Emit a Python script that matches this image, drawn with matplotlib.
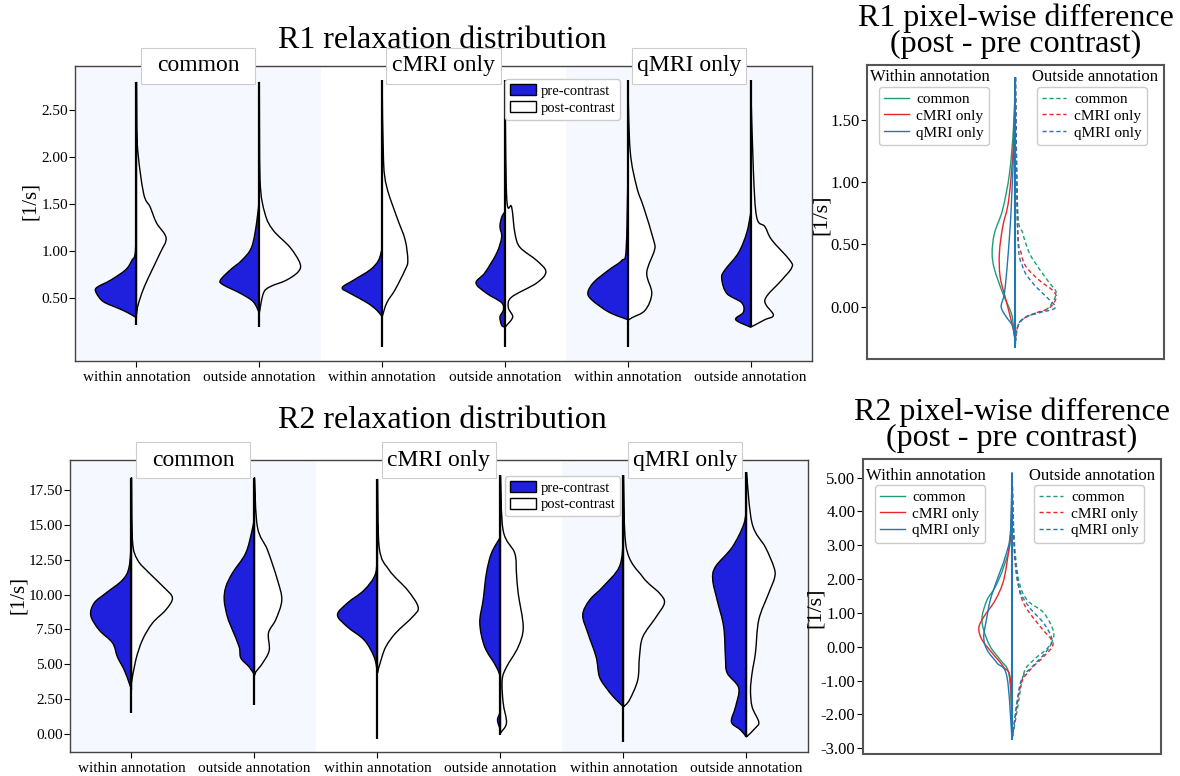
import numpy as np
import matplotlib
matplotlib.use('Agg')
import matplotlib.pyplot as plt
from matplotlib.path import Path
from matplotlib.patches import PathPatch, Patch, Rectangle
from matplotlib.lines import Line2D

plt.rcParams['font.family'] = ['Liberation Serif', 'DejaVu Serif']
plt.rcParams['axes.unicode_minus'] = False

groups = ['common', 'cMRI only', 'qMRI only']
regions = ['within annotation', 'outside annotation']

# half-violin outlines: knot values (y) and half widths (w)
# order: common-within, common-outside, cMRI-within, cMRI-outside, qMRI-within, qMRI-outside
r1_pre_y = [
    [1.55, 1.01, 0.90, 0.80, 0.69, 0.61, 0.55, 0.46, 0.39, 0.34, 0.29],
    [1.56, 1.30, 1.04, 0.90, 0.80, 0.69, 0.64, 0.55, 0.46, 0.34],
    [1.03, 0.90, 0.80, 0.69, 0.61, 0.55, 0.45, 0.37, 0.30],
    [1.42, 1.36, 1.26, 1.15, 0.98, 0.77, 0.66, 0.55, 0.45, 0.37, 0.30, 0.21, 0.19],
    [1.76, 1.01, 0.90, 0.80, 0.67, 0.56, 0.48, 0.35, 0.27],
    [1.40, 1.19, 0.98, 0.80, 0.71, 0.55, 0.45, 0.35, 0.27, 0.19],
]
r1_pre_w = [
    [0, 0.008, 0.038, 0.089, 0.211, 0.325, 0.325, 0.268, 0.146, 0.065, 0],
    [0, 0.022, 0.063, 0.144, 0.236, 0.317, 0.293, 0.154, 0.049, 0],
    [0, 0.030, 0.098, 0.233, 0.325, 0.260, 0.122, 0.043, 0],
    [0, 0.027, 0.041, 0.027, 0.067, 0.163, 0.236, 0.149, 0.027, 0.014, 0.041, 0.027, 0],
    [0, 0.014, 0.049, 0.154, 0.276, 0.325, 0.293, 0.154, 0],
    [0, 0.033, 0.100, 0.209, 0.236, 0.195, 0.073, 0.059, 0.122, 0],
]
r1_post_y = [
    [2.80, 2.15, 1.62, 1.47, 1.30, 1.14, 0.98, 0.72, 0.55, 0.40, 0.33],
    [2.80, 1.76, 1.40, 1.22, 1.04, 0.87, 0.78, 0.69, 0.62, 0.55, 0.34],
    [2.82, 1.97, 1.68, 1.36, 1.12, 0.90, 0.80, 0.59, 0.45, 0.30],
    [2.82, 1.57, 1.47, 1.19, 1.04, 0.90, 0.78, 0.66, 0.51, 0.40, 0.30, 0.21, 0.19],
    [2.82, 2.07, 1.68, 1.47, 1.12, 1.01, 0.77, 0.55, 0.37, 0.29, 0.26],
    [2.82, 1.86, 1.36, 1.26, 1.12, 0.90, 0.82, 0.69, 0.48, 0.32, 0.27, 0.19],
]
r1_post_w = [
    [0, 0.006, 0.057, 0.111, 0.163, 0.241, 0.193, 0.098, 0.043, 0.008, 0],
    [0, 0.006, 0.046, 0.114, 0.250, 0.331, 0.317, 0.220, 0.087, 0.033, 0],
    [0, 0.011, 0.038, 0.120, 0.187, 0.209, 0.187, 0.106, 0.038, 0],
    [0, 0.014, 0.054, 0.081, 0.122, 0.258, 0.333, 0.258, 0.054, 0.027, 0.063, 0.014, 0],
    [0, 0.019, 0.073, 0.128, 0.209, 0.217, 0.154, 0.195, 0.141, 0.033, 0],
    [0, 0.022, 0.049, 0.116, 0.171, 0.320, 0.333, 0.252, 0.116, 0.185, 0.116, 0],
]
r1_lo = [0.21, 0.19, -0.02, -0.02, -0.02, 0.19]
r1_hi = [2.80, 2.80, 2.82, 2.82, 2.82, 2.82]

r2_pre_y = [
    [14.1, 12.0, 11.05, 10.1, 9.4, 8.5, 7.46, 6.53, 5.52, 4.59, 3.66, 3.16],
    [15.5, 14.6, 12.98, 11.55, 10.55, 9.6, 8.4, 7.46, 6.24, 5.45, 4.8, 4.23],
    [13.4, 11.55, 10.33, 9.4, 8.54, 7.68, 6.74, 5.52, 4.38],
    [14.13, 12.98, 11.55, 9.6, 7.96, 6.24, 4.8, 3.87, 1.8, 1.0, 0.29],
    [13.9, 12.0, 10.55, 9.6, 8.54, 7.25, 5.52, 4.09, 3.16, 2.58, 1.94],
    [16.5, 15.1, 13.4, 12.0, 11.05, 9.6, 7.68, 5.52, 4.38, 3.3, 1.94, 0.86, 0.29, -0.22],
]
r2_pre_w = [
    [0, 0.019, 0.073, 0.209, 0.303, 0.331, 0.263, 0.154, 0.114, 0.059, 0.019, 0],
    [0, 0.020, 0.071, 0.179, 0.233, 0.246, 0.220, 0.179, 0.124, 0.111, 0.043, 0],
    [0, 0.014, 0.108, 0.244, 0.325, 0.244, 0.108, 0.027, 0],
    [0, 0.073, 0.114, 0.141, 0.168, 0.128, 0.033, 0, 0, 0.024, 0],
    [0, 0.033, 0.168, 0.276, 0.331, 0.290, 0.222, 0.195, 0.128, 0.073, 0],
    [0, 0.020, 0.116, 0.252, 0.274, 0.238, 0.185, 0.171, 0.157, 0.063, 0.089, 0.122, 0.049, 0],
]
r2_post_y = [
    [18.4, 13.9, 12.5, 11.55, 10.5, 9.76, 8.9, 7.96, 6.74, 5.31, 3.66],
    [18.4, 14.85, 13.2, 11.05, 9.6, 8.2, 7.25, 6.0, 5.07, 4.45, 4.2],
    [18.3, 13.4, 11.76, 10.33, 9.1, 8.4, 7.25, 6.24, 5.1, 4.4],
    [18.58, 14.6, 12.98, 11.55, 10.1, 7.68, 6.24, 4.8, 3.87, 2.22, 0.79, 0.07],
    [18.58, 13.4, 11.26, 10.1, 9.4, 8.4, 6.96, 5.52, 3.87, 2.44, 1.94],
    [18.8, 15.1, 13.4, 12.0, 11.26, 10.1, 8.18, 5.81, 4.38, 3.16, 1.94, 0.86, 0.43, -0.22],
]
r2_post_w = [
    [0, 0.008, 0.049, 0.144, 0.266, 0.333, 0.279, 0.171, 0.089, 0.035, 0],
    [0, 0.024, 0.106, 0.187, 0.222, 0.173, 0.114, 0.120, 0.065, 0.011, 0],
    [0, 0.014, 0.095, 0.244, 0.331, 0.285, 0.149, 0.067, 0.022, 0],
    [0, 0.022, 0.116, 0.130, 0.144, 0.185, 0.144, 0.049, 0.014, 0.022, 0.049, 0],
    [0, 0.022, 0.157, 0.293, 0.333, 0.266, 0.157, 0.130, 0.116, 0.049, 0],
    [0, 0.046, 0.154, 0.222, 0.230, 0.181, 0.100, 0.073, 0.046, 0.033, 0.046, 0.100, 0.073, 0],
]
r2_lo = [1.5, 2.08, -0.36, -0.07, -0.57, -0.22]
r2_hi = [18.4, 18.4, 18.3, 18.58, 18.58, 18.8]

# pixel-wise differences (post - pre), order: common, cMRI only, qMRI only
r1d_in_y = [
    [1.84, 1.44, 1.07, 0.78, 0.59, 0.43, 0.30, 0.11, -0.05, -0.16, -0.30],
    [1.84, 1.31, 0.86, 0.64, 0.43, 0.24, 0.05, -0.11, -0.23, -0.30],
    [1.84, 1.44, 0.78, 0.38, 0.11, 0.0, -0.08, -0.16, -0.30],
]
r1d_in_w = [
    [0, 0.013, 0.040, 0.086, 0.141, 0.157, 0.141, 0.086, 0.029, 0.013, 0],
    [0, 0.013, 0.045, 0.086, 0.108, 0.103, 0.063, 0.029, 0.007, 0],
    [0, 0.007, 0.029, 0.052, 0.074, 0.096, 0.063, 0.018, 0],
]
r1d_out_y = [
    [1.84, 0.78, 0.59, 0.43, 0.30, 0.19, 0.11, 0.0, -0.05, -0.08, -0.16, -0.28],
    [1.84, 0.64, 0.43, 0.32, 0.21, 0.13, 0.07, -0.01, -0.05, -0.10, -0.16, -0.28],
    [1.84, 0.59, 0.32, 0.19, 0.08, 0.0, -0.03, -0.05, -0.10, -0.16, -0.28],
]
r1d_out_w = [
    [0, 0.015, 0.049, 0.094, 0.162, 0.229, 0.274, 0.229, 0.162, 0.072, 0.015, 0],
    [0, 0.015, 0.038, 0.072, 0.162, 0.251, 0.274, 0.229, 0.139, 0.049, 0.015, 0],
    [0, 0.015, 0.049, 0.116, 0.207, 0.269, 0.229, 0.139, 0.049, 0.015, 0],
]
r1d_line = [-0.33, 1.84]

r2d_in_y = [
    [5.14, 3.16, 2.36, 1.77, 1.38, 0.88, 0.49, 0.0, -0.39, -0.78, -1.9, -2.75],
    [5.14, 3.66, 2.86, 1.97, 1.38, 0.88, 0.55, 0.2, -0.18, -0.6, -0.98, -2.75],
    [5.14, 3.36, 2.66, 1.97, 1.38, 0.79, 0.29, -0.09, -0.48, -0.89, -2.75],
]
r2d_in_w = [
    [0, 0.011, 0.056, 0.112, 0.168, 0.201, 0.190, 0.146, 0.079, 0.022, 0.003, 0],
    [0, 0.005, 0.022, 0.056, 0.112, 0.190, 0.223, 0.201, 0.134, 0.056, 0.011, 0],
    [0, 0.011, 0.045, 0.101, 0.146, 0.172, 0.190, 0.168, 0.101, 0.034, 0],
]
r2d_out_y = [
    [5.14, 3.16, 1.97, 1.38, 1.0, 0.41, 0.0, -0.39, -0.78, -1.9, -2.75],
    [5.14, 2.86, 1.77, 1.19, 0.59, 0.1, -0.29, -0.68, -1.18, -2.75],
    [5.14, 2.96, 1.77, 1.19, 0.69, 0.2, -0.18, -0.6, -1.08, -2.75],
]
r2d_out_w = [
    [0, 0.015, 0.045, 0.101, 0.213, 0.280, 0.246, 0.146, 0.079, 0.034, 0],
    [0, 0.015, 0.045, 0.089, 0.190, 0.275, 0.213, 0.123, 0.056, 0],
    [0, 0.015, 0.045, 0.112, 0.213, 0.268, 0.223, 0.134, 0.056, 0],
]
r2d_line = [-2.76, 5.14]

r1_ticks = [0.5, 1.0, 1.5, 2.0, 2.5]
r2_ticks = [0.0, 2.5, 5.0, 7.5, 10.0, 12.5, 15.0, 17.5]
r1d_ticks = [0.0, 0.5, 1.0, 1.5]
r2d_ticks = [-3, -2, -1, 0, 1, 2, 3, 4, 5]

BLUE = '#1f20dd'
SHADE = '#f5f8fe'
DIFF_COLORS = ['#1b9e77', '#e8272a', '#1f77b4']


def half_path(pos, ys, ws, sign, closed=True):
    # smooth outline through the knots (Catmull-Rom as cubic beziers)
    pts = np.column_stack([pos + sign * np.asarray(ws, float), np.asarray(ys, float)])
    n = len(pts)
    verts, codes = [pts[0]], [Path.MOVETO]
    for i in range(n - 1):
        p0, p1, p2, p3 = pts[max(i - 1, 0)], pts[i], pts[i + 1], pts[min(i + 2, n - 1)]
        c1 = p1 + (p2 - p0) / 6.0
        c2 = p2 - (p3 - p1) / 6.0
        if sign < 0:
            c1[0], c2[0] = min(c1[0], pos), min(c2[0], pos)
        else:
            c1[0], c2[0] = max(c1[0], pos), max(c2[0], pos)
        verts += [c1, c2, p2]
        codes += [Path.CURVE4] * 3
    if closed:
        verts += [pts[0], pts[0]]
        codes += [Path.LINETO, Path.CLOSEPOLY]
    return Path(verts, codes)


def style_spines(ax, color='#444444', lw=1.0):
    for s in ax.spines.values():
        s.set_color(color)
        s.set_linewidth(lw)


def draw_distribution(ax, pre_y, pre_w, post_y, post_w, lo, hi, ticks, ylim, legend_anchor):
    ax.axvspan(-0.5, 1.5, color=SHADE, zorder=0, lw=0)
    ax.axvspan(3.5, 5.5, color=SHADE, zorder=0, lw=0)
    for i in range(6):
        ax.add_patch(PathPatch(half_path(i, pre_y[i], pre_w[i], -1), facecolor=BLUE,
                               edgecolor='black', lw=1.0, zorder=2))
        ax.add_patch(PathPatch(half_path(i, post_y[i], post_w[i], 1), facecolor='white',
                               edgecolor='black', lw=1.0, zorder=2))
        ax.vlines(i, lo[i], hi[i], color='black', lw=1.6, zorder=3)
    ax.set_xlim(-0.5, 5.5)
    ax.set_ylim(*ylim)
    ax.set_xticks(range(6))
    ax.set_xticklabels(regions * 3, fontsize=11)
    ax.set_yticks(ticks)
    ax.set_yticklabels([f'{t:.2f}' for t in ticks], fontsize=11)
    ax.tick_params(length=4, width=0.8)
    ax.tick_params(axis='y', pad=1)
    style_spines(ax)
    for k, g in enumerate(groups):
        c = 2 * k + 0.5
        ax.add_patch(Rectangle((c - 0.465, 0.94), 0.93, 0.12, transform=ax.get_xaxis_transform(),
                               facecolor='white', edgecolor='#cccccc', lw=0.8, clip_on=False, zorder=5))
        ax.text(c, 1.0, g, transform=ax.get_xaxis_transform(), ha='center', va='center',
                fontsize=17, zorder=6)
    handles = [Patch(facecolor=BLUE, edgecolor='black', label='pre-contrast'),
               Patch(facecolor='white', edgecolor='black', label='post-contrast')]
    ax.legend(handles=handles, loc='upper left', bbox_to_anchor=legend_anchor, fontsize=10.5,
              labelspacing=0.2, handlelength=1.8, handleheight=0.8, borderpad=0.35,
              handletextpad=0.3, borderaxespad=0, framealpha=1, edgecolor='#cccccc')
    ax.set_ylabel('[1/s]', fontsize=15)


def draw_difference(ax, in_y, in_w, out_y, out_w, line, ticks, ylim, title_y, leg_y):
    for k in range(3):
        ax.add_patch(PathPatch(half_path(0, in_y[k], in_w[k], -1, closed=False), fill=False,
                               edgecolor=DIFF_COLORS[k], lw=1.0, zorder=2))
        ax.add_patch(PathPatch(half_path(0, out_y[k], out_w[k], 1, closed=False), fill=False,
                               edgecolor=DIFF_COLORS[k], lw=1.0, ls=(0, (3, 2)), zorder=2))
    ax.vlines(0, line[0], line[1], color=DIFF_COLORS[2], lw=1.5, zorder=3)
    ax.set_xlim(-1, 1)
    ax.set_ylim(*ylim)
    ax.set_xticks([])
    ax.set_yticks(ticks)
    ax.set_yticklabels([f'{t:.2f}' for t in ticks], fontsize=12)
    ax.tick_params(length=4, width=0.8, pad=1.5)
    style_spines(ax, '#555555', 1.5)
    h_in = [Line2D([0], [0], color=c, lw=1.0, label=g) for c, g in zip(DIFF_COLORS, groups)]
    h_out = [Line2D([0], [0], color=c, lw=1.0, ls=(0, (3, 2)), label=g) for c, g in zip(DIFF_COLORS, groups)]
    kw = dict(fontsize=11, labelspacing=0.2, handlelength=1.6, borderpad=0.35,
              handletextpad=0.5, borderaxespad=0, framealpha=1, edgecolor='#cccccc')
    leg1 = ax.legend(handles=h_in, loc='upper left', bbox_to_anchor=(0.04, leg_y), **kw)
    ax.add_artist(leg1)
    ax.legend(handles=h_out, loc='upper right', bbox_to_anchor=(0.943, leg_y), **kw)
    ax.text(0.212, title_y, 'Within annotation', transform=ax.transAxes, ha='center', va='center', fontsize=12)
    ax.text(0.768, title_y, 'Outside annotation', transform=ax.transAxes, ha='center', va='center', fontsize=12)
    ax.set_ylabel('[1/s]', fontsize=16)


fig = plt.figure(figsize=(11.8, 7.76), dpi=100)
ax1 = fig.add_axes([0.0636, 0.5348, 0.6246, 0.3802])
ax2 = fig.add_axes([0.0593, 0.0309, 0.6254, 0.3763])
ax3 = fig.add_axes([0.7347, 0.5374, 0.2517, 0.3789])
ax4 = fig.add_axes([0.7314, 0.0284, 0.2525, 0.3802])

draw_distribution(ax1, r1_pre_y, r1_pre_w, r1_post_y, r1_post_w, r1_lo, r1_hi,
                  r1_ticks, (-0.17, 2.97), (0.583, 0.955))
draw_distribution(ax2, r2_pre_y, r2_pre_w, r2_post_y, r2_post_w, r2_lo, r2_hi,
                  r2_ticks, (-1.3, 19.66), (0.589, 0.945))
ax1.yaxis.set_label_coords(-0.048, 0.542)
ax2.yaxis.set_label_coords(-0.057, 0.538)

draw_difference(ax3, r1d_in_y, r1d_in_w, r1d_out_y, r1d_out_w, r1d_line,
                r1d_ticks, (-0.42, 1.94), 0.958, 0.925)
draw_difference(ax4, r2d_in_y, r2d_in_w, r2d_out_y, r2d_out_w, r2d_line,
                r2d_ticks, (-3.17, 5.55), 0.942, 0.912)
ax3.yaxis.set_label_coords(-0.12, 0.49)
ax4.yaxis.set_label_coords(-0.127, 0.495)

fig.text(0.375, 1 - 40 / 776, 'R1 relaxation distribution', ha='center', va='center', fontsize=23)
fig.text(0.375, 1 - 420 / 776, 'R2 relaxation distribution', ha='center', va='center', fontsize=23)
fig.text(0.861, 1 - 31 / 776, 'R1 pixel-wise difference\n(post - pre contrast)', ha='center',
         va='center', fontsize=23, linespacing=0.85)
fig.text(0.8576, 1 - 425 / 776, 'R2 pixel-wise difference\n(post - pre contrast)', ha='center',
         va='center', fontsize=23, linespacing=0.85)

fig.savefig('out.png', dpi=100)
